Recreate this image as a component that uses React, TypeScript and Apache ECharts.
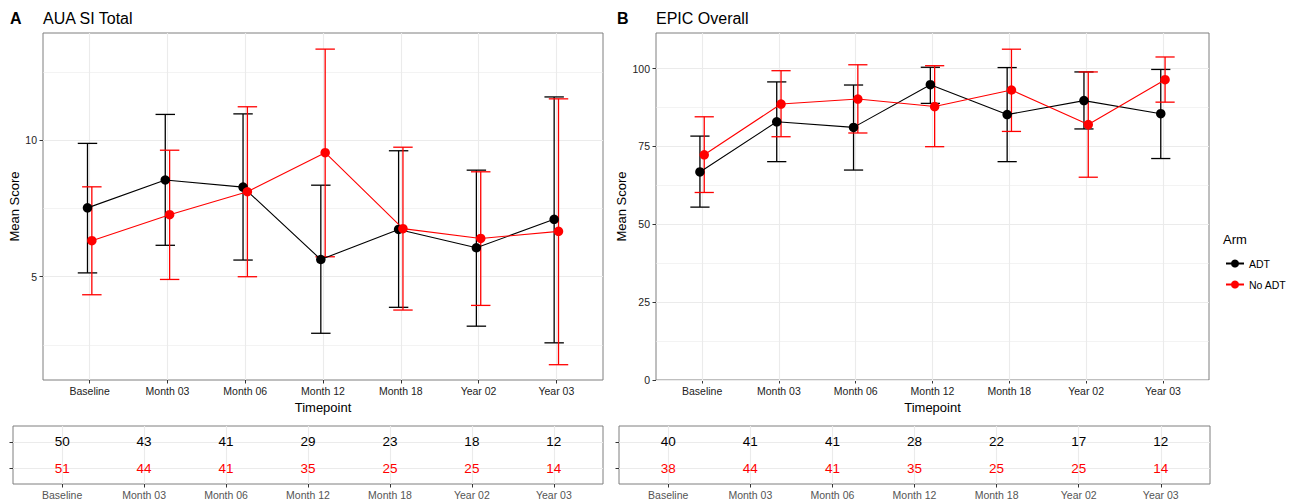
import React, { useEffect, useRef } from 'react';
import * as echarts from 'echarts';

const timepoints = ['Baseline', 'Month 03', 'Month 06', 'Month 12', 'Month 18', 'Year 02', 'Year 03'];
const timeIdx = [1, 2, 3, 4, 5, 6, 7];

// Panel A: AUA SI Total
const auaAdtMean = [7.52, 8.54, 8.28, 5.63, 6.73, 6.06, 7.10];
const auaAdtLow = [5.14, 6.15, 5.61, 2.93, 3.88, 3.19, 2.58];
const auaAdtHigh = [9.88, 10.94, 10.96, 8.35, 9.61, 8.90, 11.58];
const auaNoMean = [6.32, 7.27, 8.11, 9.54, 6.76, 6.40, 6.66];
const auaNoLow = [4.34, 4.90, 5.00, 5.73, 3.78, 3.95, 1.78];
const auaNoHigh = [8.29, 9.63, 11.22, 13.33, 9.74, 8.84, 11.51];

// Panel B: EPIC Overall
const epicAdtMean = [66.8, 82.9, 81.1, 94.8, 85.2, 89.7, 85.5];
const epicAdtLow = [55.5, 70.1, 67.4, 88.8, 70.1, 80.6, 71.1];
const epicAdtHigh = [78.3, 95.7, 94.7, 100.4, 100.3, 98.9, 99.7];
const epicNoMean = [72.3, 88.6, 90.2, 87.8, 93.1, 82.0, 96.4];
const epicNoLow = [60.2, 78.1, 79.3, 74.9, 79.8, 65.1, 89.2];
const epicNoHigh = [84.5, 99.3, 101.2, 100.9, 106.2, 98.9, 103.7];

// Number at risk tables
const auaNAdt = [50, 43, 41, 29, 23, 18, 12];
const auaNNo = [51, 44, 41, 35, 25, 25, 14];
const epicNAdt = [40, 41, 41, 28, 22, 17, 12];
const epicNNo = [38, 44, 41, 35, 25, 25, 14];

// Axis ticks
const auaTicks = [5, 10];
const auaMinor = [2.5, 7.5, 12.5];
const epicTicks = [0, 25, 50, 75, 100];
const epicMinor = [12.5, 37.5, 62.5, 87.5];

const FONT = '"Liberation Sans", Arial, Helvetica, sans-serif';
const BLACK = '#000000';
const RED = '#FF0000';
const GRIDC = '#EBEBEB';
const DODGE = 0.028;
const CAP = 0.25;

export default function App() {
  const ref = useRef<HTMLDivElement>(null);

  useEffect(() => {
    if (!ref.current) return;
    const chart = echarts.init(ref.current, null, { renderer: 'svg' });

    const errorBars = (ai: number, low: number[], high: number[], color: string, off: number) => ({
      type: 'custom',
      xAxisIndex: ai,
      yAxisIndex: ai,
      z: 2,
      clip: false,
      encode: { x: 0, y: [1, 2] },
      data: low.map((l, i) => [timeIdx[i] + off, l, high[i]]),
      renderItem: (params: any, api: any) => {
        const x = api.value(0);
        const lo = api.coord([x, api.value(1)]);
        const hi = api.coord([x, api.value(2)]);
        const hw = api.size([CAP, 0])[0] / 2;
        const style = { stroke: color, lineWidth: 1.3, fill: null };
        return {
          type: 'group',
          children: [
            { type: 'line', shape: { x1: lo[0], y1: lo[1], x2: hi[0], y2: hi[1] }, style },
            { type: 'line', shape: { x1: lo[0] - hw, y1: lo[1], x2: lo[0] + hw, y2: lo[1] }, style },
            { type: 'line', shape: { x1: hi[0] - hw, y1: hi[1], x2: hi[0] + hw, y2: hi[1] }, style },
          ],
        };
      },
    });

    const meanLine = (ai: number, name: string, mean: number[], color: string, off: number) => ({
      type: 'line',
      name,
      xAxisIndex: ai,
      yAxisIndex: ai,
      z: 3,
      data: mean.map((m, i) => [timeIdx[i] + off, m]),
      symbol: 'circle',
      symbolSize: 9.5,
      showSymbol: true,
      lineStyle: { color, width: 1.1 },
      itemStyle: { color },
      emphasis: { disabled: true },
    });

    const gridLines = (ai: number, majorY: number[], minorY: number[], xs: number[]) => ({
      type: 'line',
      xAxisIndex: ai,
      yAxisIndex: ai,
      data: [],
      silent: true,
      z: 1,
      markLine: {
        silent: true,
        z: 1,
        symbol: ['none', 'none'],
        label: { show: false },
        emphasis: { disabled: true },
        data: [
          ...minorY.map((v) => ({ yAxis: v, lineStyle: { color: GRIDC, width: 0.6, type: 'solid' } })),
          ...majorY.map((v) => ({ yAxis: v, lineStyle: { color: GRIDC, width: 1.1, type: 'solid' } })),
          ...xs.map((v) => ({ xAxis: v, lineStyle: { color: GRIDC, width: 1.1, type: 'solid' } })),
        ],
      },
    });

    const counts = (ai: number, n: number[], row: number, color: string) => ({
      type: 'custom',
      xAxisIndex: ai,
      yAxisIndex: ai,
      z: 3,
      encode: { x: 0, y: 1 },
      data: n.map((v, i) => [timeIdx[i], row, v]),
      renderItem: (params: any, api: any) => {
        const p = api.coord([api.value(0), api.value(1)]);
        return {
          type: 'text',
          x: p[0],
          y: p[1],
          style: {
            text: String(api.value(2)),
            fill: color,
            fontSize: 13.5,
            fontFamily: FONT,
            align: 'center',
            verticalAlign: 'middle',
          },
        };
      },
    });

    const xCat = (gi: number, name: string, color: string) => ({
      type: 'value',
      gridIndex: gi,
      min: 0.4,
      max: 7.6,
      name,
      nameLocation: 'middle',
      nameGap: 18.5,
      nameTextStyle: { fontFamily: FONT, fontSize: 13, color: '#000' },
      axisLine: { show: false },
      splitLine: { show: false },
      axisTick: { show: true, length: 3.5, customValues: timeIdx, lineStyle: { color: '#333', width: 1 } },
      axisLabel: {
        customValues: timeIdx,
        margin: 5,
        fontFamily: FONT,
        fontSize: 10.5,
        color,
        formatter: (v: number) => {
          const k = Math.round(v);
          return Math.abs(v - k) < 1e-6 && k >= 1 && k <= 7 ? timepoints[k - 1] : '';
        },
      },
    });

    const yVal = (gi: number, min: number, max: number, ticks: number[], nameGap: number) => ({
      type: 'value',
      gridIndex: gi,
      min,
      max,
      name: 'Mean Score',
      nameLocation: 'middle',
      nameGap,
      nameTextStyle: { fontFamily: FONT, fontSize: 13, color: '#000' },
      axisLine: { show: false },
      splitLine: { show: false },
      axisTick: { show: true, length: 3.5, customValues: ticks, lineStyle: { color: '#333', width: 1 } },
      axisLabel: {
        customValues: ticks,
        margin: 6,
        fontFamily: FONT,
        fontSize: 10.5,
        color: '#222',
        formatter: (v: number) => (ticks.some((t) => Math.abs(t - v) < 1e-6) ? String(v) : ''),
      },
    });

    const yTable = (gi: number) => ({
      type: 'value',
      gridIndex: gi,
      min: 0.4,
      max: 2.6,
      axisLine: { show: false },
      splitLine: { show: false },
      axisTick: { show: true, length: 3.5, customValues: [1, 2], lineStyle: { color: '#333', width: 1 } },
      axisLabel: { show: false },
    });

    const gridBase = { show: true, borderColor: '#7F7F7F', borderWidth: 1, backgroundColor: '#fff', containLabel: false };

    const option: any = {
      animation: false,
      backgroundColor: '#fff',
      title: [
        { text: 'A', left: 10, top: 10, padding: 0, textStyle: { fontFamily: FONT, fontSize: 16, fontWeight: 'bold', color: '#000' } },
        { text: 'AUA SI Total', left: 43, top: 10, padding: 0, textStyle: { fontFamily: FONT, fontSize: 16, fontWeight: 'normal', color: '#000' } },
        { text: 'B', left: 617, top: 10, padding: 0, textStyle: { fontFamily: FONT, fontSize: 16, fontWeight: 'bold', color: '#000' } },
        { text: 'EPIC Overall', left: 656, top: 10, padding: 0, textStyle: { fontFamily: FONT, fontSize: 16, fontWeight: 'normal', color: '#000' } },
        { text: 'Arm', left: 1223, top: 233, padding: 0, textStyle: { fontFamily: FONT, fontSize: 13, fontWeight: 'normal', color: '#000' } },
      ],
      legend: {
        left: 1225,
        top: 258,
        orient: 'vertical',
        padding: 0,
        itemWidth: 18,
        itemHeight: 10,
        itemGap: 10,
        selectedMode: false,
        textStyle: { fontFamily: FONT, fontSize: 10.5, color: '#000' },
        data: [{ name: 'ADT' }, { name: 'No ADT' }],
      },
      grid: [
        { ...gridBase, left: 43, top: 33, width: 560, height: 347 },
        { ...gridBase, left: 656, top: 33, width: 553, height: 347 },
        { ...gridBase, left: 13, top: 426, width: 590, height: 58 },
        { ...gridBase, left: 619, top: 426, width: 591, height: 58 },
      ],
      xAxis: [xCat(0, 'Timepoint', '#222'), xCat(1, 'Timepoint', '#222'), xCat(2, '', '#555'), xCat(3, '', '#555')],
      yAxis: [yVal(0, 1.22, 13.92, auaTicks, 20.5), yVal(1, 0, 111.4, epicTicks, 28), yTable(2), yTable(3)],
      series: [
        gridLines(0, auaTicks, auaMinor, timeIdx),
        gridLines(1, epicTicks, epicMinor, timeIdx),
        gridLines(2, [1, 2], [], timeIdx),
        gridLines(3, [1, 2], [], timeIdx),
        errorBars(0, auaAdtLow, auaAdtHigh, BLACK, -DODGE),
        errorBars(0, auaNoLow, auaNoHigh, RED, DODGE),
        meanLine(0, 'ADT', auaAdtMean, BLACK, -DODGE),
        meanLine(0, 'No ADT', auaNoMean, RED, DODGE),
        errorBars(1, epicAdtLow, epicAdtHigh, BLACK, -DODGE),
        errorBars(1, epicNoLow, epicNoHigh, RED, DODGE),
        meanLine(1, 'ADT', epicAdtMean, BLACK, -DODGE),
        meanLine(1, 'No ADT', epicNoMean, RED, DODGE),
        counts(2, auaNAdt, 2, BLACK),
        counts(2, auaNNo, 1, RED),
        counts(3, epicNAdt, 2, BLACK),
        counts(3, epicNNo, 1, RED),
      ],
    };

    chart.setOption(option);
    return () => chart.dispose();
  }, []);

  return <div ref={ref} style={{ position: 'absolute', left: 0, top: 0, width: 1299, height: 501 }} />;
}
